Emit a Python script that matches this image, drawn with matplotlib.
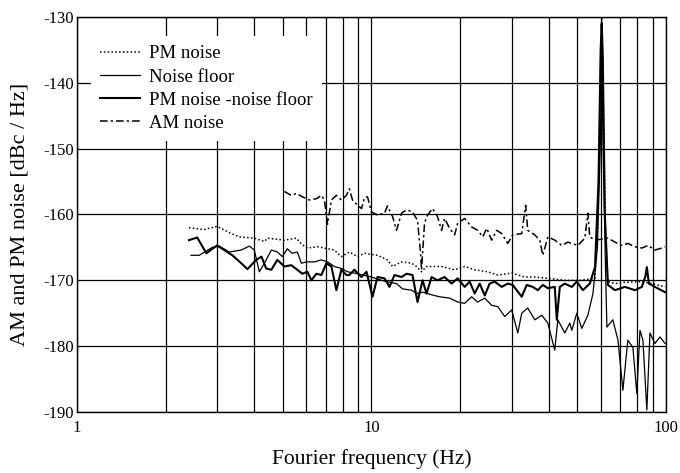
import matplotlib
matplotlib.use('Agg')
import matplotlib.pyplot as plt
from matplotlib.ticker import FixedLocator, NullFormatter

plt.rcParams['font.family'] = ['Liberation Serif', 'DejaVu Serif']
plt.rcParams['axes.unicode_minus'] = False

# PM noise (dotted)
pm_freq = [2.40, 2.70, 2.99, 3.34, 3.56, 4.00, 4.33, 4.43, 5.06, 5.56, 5.78, 6.06,
           6.55, 6.92, 7.48, 7.90, 8.41, 8.96, 9.46, 10.48, 11.33, 11.79, 12.65,
           13.68, 14.22, 14.79, 15.38, 17.30, 19.16, 20.72, 22.41, 24.81, 26.84,
           29.94, 33.13, 35.85, 39.70, 45.32, 51.0, 55.1, 57.4, 58.8, 59.8, 60.5,
           61.2, 62.3, 63.5, 67.1, 72.5, 82.8, 89.6, 99.3]
pm_db = [-162.0, -162.3, -161.8, -162.9, -163.4, -163.6, -164.1, -163.6, -163.9,
         -163.6, -164.5, -165.1, -164.9, -165.1, -165.4, -166.4, -165.7, -166.4,
         -165.9, -166.2, -166.9, -167.9, -167.2, -167.4, -167.9, -168.7, -167.9,
         -167.9, -168.4, -167.9, -168.4, -168.7, -169.2, -168.9, -169.5, -169.5,
         -169.7, -170.0, -170.0, -169.8, -169.7, -160.0, -140.0, -130.0, -142.0,
         -163.0, -170.2, -170.5, -170.3, -170.2, -170.5, -171.0]

# Noise floor (thin solid)
nf_freq = [2.44, 2.60, 2.88, 3.04, 3.29, 3.61, 3.85, 4.00, 4.16, 4.33, 4.57, 4.79,
           4.98, 5.18, 5.38, 5.60, 5.78, 6.01, 6.40, 6.76, 7.09, 7.48, 7.90, 8.29,
           8.96, 10.0, 10.81, 11.51, 12.16, 12.75, 13.68, 14.22, 14.91, 16.0, 17.02,
           18.41, 19.62, 20.72, 21.88, 22.94, 24.24, 25.59, 26.84, 28.34, 29.94,
           31.39, 32.37, 33.92, 35.85, 37.87, 39.70, 41.91, 42.93, 45.32, 47.15,
           47.89, 49.77, 51.78, 54.30, 56.5, 58.5, 59.8, 60.5, 61.3, 62.3, 63.0,
           66.0, 68.7, 71.4, 74.2, 77.2, 79.6, 81.6, 83.5, 86.1, 88.2, 91.7, 95.4,
           99.3]
nf_db = [-166.2, -166.2, -165.0, -164.8, -165.7, -165.4, -164.8, -165.4, -168.7,
         -167.4, -165.4, -165.7, -166.4, -165.2, -165.9, -165.7, -167.4, -167.2,
         -167.2, -166.9, -167.2, -167.9, -168.2, -168.7, -169.0, -169.5, -170.0,
         -170.3, -170.5, -171.3, -171.5, -172.0, -171.8, -172.2, -172.5, -172.7,
         -173.3, -173.5, -172.5, -173.3, -172.7, -173.8, -174.0, -175.5, -174.5,
         -178.0, -175.0, -174.2, -176.0, -175.3, -176.5, -180.6, -176.0, -178.0,
         -176.5, -177.6, -175.0, -177.3, -175.3, -172.0, -165.0, -150.0, -138.0,
         -152.0, -168.0, -177.1, -176.0, -179.1, -186.7, -179.1, -180.2, -187.2,
         -177.6, -179.1, -189.7, -178.0, -179.6, -178.6, -179.6]

# PM noise - noise floor (thick solid)
diff_freq = [2.40, 2.56, 2.75, 2.99, 3.37, 3.61, 3.79, 4.06, 4.23, 4.39, 4.57, 4.79,
             5.06, 5.34, 5.60, 5.82, 6.06, 6.25, 6.50, 6.76, 7.03, 7.31, 7.60, 7.90,
             8.22, 8.41, 8.75, 9.25, 9.62, 10.08, 10.48, 11.07, 11.51, 11.97, 12.65,
             13.16, 13.78, 14.33, 14.91, 15.38, 16.0, 16.75, 17.71, 18.71, 19.62,
             20.72, 21.55, 22.41, 23.30, 24.24, 25.19, 26.20, 27.69, 29.01, 30.17,
             32.37, 33.65, 35.29, 36.70, 38.17, 39.70, 41.91, 42.58, 43.60, 45.32,
             47.89, 49.77, 52.20, 55.11, 57.4, 59.0, 60.0, 60.5, 61.0, 62.0, 63.5,
             67.1, 72.5, 78.5, 82.8, 85.0, 86.1, 87.5, 91.7, 99.3]
diff_db = [-163.9, -163.5, -165.9, -164.7, -166.2, -167.4, -168.3, -166.9, -166.4,
           -168.2, -168.4, -166.9, -167.9, -167.7, -168.4, -169.0, -168.7, -170.0,
           -169.0, -169.2, -167.4, -167.9, -171.5, -168.4, -169.2, -169.2, -168.4,
           -169.5, -168.7, -172.5, -169.5, -169.7, -171.0, -169.2, -169.5, -169.0,
           -169.2, -173.3, -170.0, -172.0, -169.5, -170.0, -169.5, -170.5, -169.7,
           -171.0, -170.2, -172.0, -170.5, -172.3, -170.5, -170.2, -171.0, -170.5,
           -170.7, -172.5, -170.7, -171.0, -171.5, -170.7, -171.2, -171.0, -176.0,
           -171.0, -170.5, -171.0, -170.2, -171.5, -170.5, -168.0, -155.0, -135.0,
           -131.0, -136.0, -160.0, -170.7, -171.5, -171.0, -171.5, -171.0, -169.5,
           -168.0, -170.5, -171.0, -171.8]

# AM noise (dash-dot)
am_freq = [5.06, 5.34, 5.56, 5.82, 6.15, 6.50, 6.76, 6.92, 7.09, 7.31, 7.60, 7.90,
           8.22, 8.41, 8.62, 8.96, 9.25, 9.46, 9.69, 10.0, 10.48, 11.07, 11.33,
           11.79, 12.16, 12.65, 13.16, 13.78, 14.33, 14.68, 14.79, 15.14, 15.50,
           16.11, 16.75, 17.30, 17.71, 18.41, 19.16, 19.62, 20.72, 21.88, 22.94,
           23.87, 24.62, 25.59, 26.61, 27.69, 29.01, 30.17, 32.37, 33.39, 33.92,
           35.85, 37.28, 38.17, 39.70, 41.91, 44.29, 46.42, 47.89, 50.2, 53.02,
           54.30, 55.11, 57.36, 63.5, 67.1, 70.8, 74.2, 78.5, 82.8, 86.9, 91.7,
           96.9, 99.3]
am_db = [-156.5, -157.1, -156.8, -157.3, -157.8, -157.6, -157.1, -157.8, -161.5,
         -157.8, -157.1, -157.8, -157.1, -156.1, -157.8, -158.6, -159.1, -157.5,
         -157.3, -159.6, -160.1, -159.8, -158.7, -160.3, -162.4, -159.8, -159.3,
         -159.6, -160.9, -165.9, -168.4, -161.3, -160.1, -159.1, -160.3, -162.4,
         -160.6, -162.1, -163.1, -161.3, -160.6, -161.9, -162.4, -163.4, -162.1,
         -163.9, -162.4, -162.9, -164.4, -163.1, -162.9, -158.6, -162.4, -163.1,
         -163.9, -166.2, -163.4, -163.9, -164.7, -164.2, -164.4, -164.7, -163.6,
         -159.8, -163.4, -163.9, -163.6, -164.2, -164.7, -164.4, -164.9, -165.1,
         -164.7, -165.4, -165.1, -164.9]

labels = ['PM noise', 'Noise floor', 'PM noise -noise floor', 'AM noise']

fig = plt.figure(figsize=(6.8, 4.73), dpi=100)
ax = fig.add_axes([0.1132, 0.129, 0.8662, 0.8351])

ax.plot(pm_freq, pm_db, color='black', lw=1.1, linestyle=(0, (1, 1.5)), label=labels[0])
ax.plot(nf_freq, nf_db, color='black', lw=0.9, label=labels[1])
ax.plot(diff_freq, diff_db, color='black', lw=1.5, label=labels[2])
ax.plot(am_freq, am_db, color='black', lw=1.1, linestyle=(0, (5, 2, 1.5, 2)), label=labels[3])

ax.set_xscale('log')
ax.set_xlim(1, 100)
ax.set_ylim(-190, -130)
ax.xaxis.set_major_locator(FixedLocator([1, 10, 100]))
ax.xaxis.set_major_formatter(plt.FuncFormatter(lambda v, p: '%d' % v))
ax.xaxis.set_minor_locator(FixedLocator([2, 3, 4, 5, 6, 7, 8, 9, 20, 30, 40, 50, 60, 70, 80, 90]))
ax.xaxis.set_minor_formatter(NullFormatter())
ax.set_yticks([-190, -180, -170, -160, -150, -140, -130])

ax.set_axisbelow(True)
ax.grid(True, which='both', color='black', lw=0.9)
ax.tick_params(which='both', length=0, labelsize=12)
ax.tick_params(axis='x', pad=6)
ax.tick_params(axis='y', pad=2)
for s in ax.spines.values():
    s.set_linewidth(1.0)

ax.set_xlabel('Fourier frequency (Hz)', fontsize=15.5, labelpad=9)
ax.set_ylabel('AM and PM noise [dBc / Hz]', fontsize=16, labelpad=10)

leg = ax.legend(loc='upper left', bbox_to_anchor=(0.024, 0.952), borderaxespad=0,
                fontsize=13.5, frameon=True, fancybox=False, edgecolor='none',
                facecolor='white', framealpha=1, handlelength=2.1,
                handletextpad=0.5, labelspacing=0.32, borderpad=0.5)

fig.savefig('out.png', dpi=100)
